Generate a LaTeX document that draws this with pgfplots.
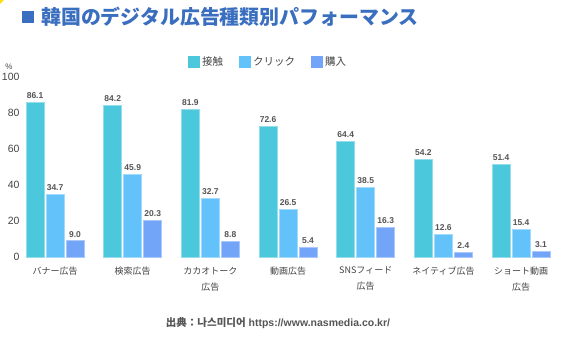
\documentclass[border=0pt]{standalone}
\usepackage{fontspec}
\setmainfont{Liberation Sans}
\newfontfamily\cjk{Noto Sans CJK JP}
\usepackage{pgfplots}
\pgfplotsset{compat=1.18}
\definecolor{cA}{HTML}{4BC8DC}
\definecolor{cB}{HTML}{64C2FA}
\definecolor{cC}{HTML}{72A4F8}
\definecolor{ttl}{HTML}{3A6EBF}
\definecolor{txt}{HTML}{444444}
\definecolor{val}{HTML}{555555}
\begin{document}
\begin{tikzpicture}
\useasboundingbox (0pt,0pt) rectangle (561pt,350pt);
\fill[white] (0pt,0pt) rectangle (561pt,350pt);
\fill[yellow!80!orange] (0pt,350pt) -- (4pt,350pt) -- (0pt,346pt) -- cycle;
\fill[ttl] (22pt,327pt) rectangle (34pt,339pt);
\node[anchor=west, text=ttl, inner sep=0pt, font=\cjk\bfseries\fontsize{19.9}{21}\selectfont] at (41pt,333pt) {韓国のデジタル広告種類別パフォーマンス};
\begin{axis}[
  at={(24pt,93pt)}, anchor=south west, scale only axis,
  width=532pt, height=180pt,
  ybar=2pt, bar width=18pt,
  ymin=0, ymax=100, xmin=-0.4, xmax=6.45,
  clip=false,
  axis line style={draw=none}, tick style={draw=none},
  ytick={0,20,...,100},
  xtick={0,...,6},
  xticklabels={バナー広告, 検索広告, {カカオトーク\\広告}, 動画広告, {SNSフィード\\広告}, ネイティブ広告, {ショート動画\\広告}},
  xticklabel style={align=center, font=\cjk\fontsize{9}{16}\selectfont, text=txt, yshift=-2pt},
  yticklabel style={font=\fontsize{10.5}{12}\selectfont, text=txt, xshift=-1pt, /pgf/number format/assume math mode=true},
  nodes near coords,
  nodes near coords style={font=\bfseries\fontsize{8.5}{10}\selectfont, text=val, /pgf/number format/.cd, fixed, fixed zerofill, precision=1, assume math mode=true},
  legend style={at={(0.459,1.083)}, anchor=center, draw=none, fill=none, legend columns=3,
    font=\cjk\fontsize{10.5}{12}\selectfont, text=txt,
    /tikz/every even column/.append style={column sep=14pt}},
  legend image code/.code={\fill[#1,draw=none] (0pt,-6pt) rectangle (12pt,6pt);},
]
\addplot[fill=cA, draw=cA!60!white, line width=0.7pt] coordinates {(0,86.1) (1,84.2) (2,81.9) (3,72.6) (4,64.4) (5,54.2) (6,51.4)};
\addplot[fill=cB, draw=cB!60!white, line width=0.7pt] coordinates {(0,34.7) (1,45.9) (2,32.7) (3,26.5) (4,38.5) (5,12.6) (6,15.4)};
\addplot[fill=cC, draw=cC!60!white, line width=0.7pt] coordinates {(0,9.0) (1,20.3) (2,8.8) (3,5.4) (4,16.3) (5,2.4) (6,3.1)};
\legend{接触, クリック, 購入}
\end{axis}
\node[text=txt, font=\fontsize{8}{9}\selectfont] at (9pt,283pt) {\%};
\node[text=val, font=\bfseries\fontsize{10.5}{12}\selectfont] at (278pt,27pt) {{\cjk 出典：나스미디어} https://www.nasmedia.co.kr/};
\end{tikzpicture}
\end{document}
